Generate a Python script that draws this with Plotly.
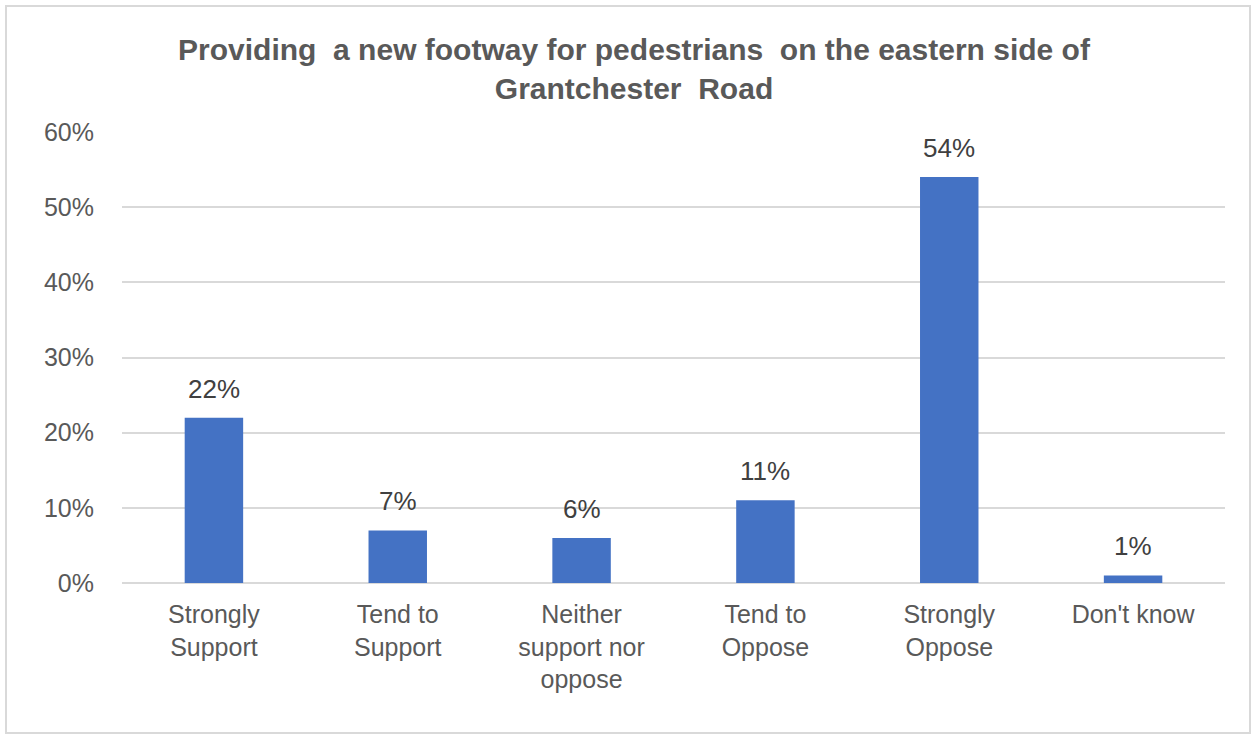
import plotly.graph_objects as go

# Survey responses
categories = [
    "Strongly<br>Support",
    "Tend to<br>Support",
    "Neither<br>support nor<br>oppose",
    "Tend to<br>Oppose",
    "Strongly<br>Oppose",
    "Don't know",
]
values = [22, 7, 6, 11, 54, 1]
y_ticks = [0, 10, 20, 30, 40, 50, 60]
y_tick_labels = [f"{v}%" for v in y_ticks]

title_text = ("Providing  a new footway for pedestrians  on the eastern side of"
              "<br>Grantchester  Road")

FONT = "Liberation Sans, Arial, sans-serif"
BAR = "#4472C4"
GRID = "#D9D9D9"
TEXT = "#595959"

fig = go.Figure(
    go.Bar(
        x=categories,
        y=values,
        marker=dict(color=BAR, line=dict(width=0)),
        hoverinfo="skip",
    )
)

# Value labels above each bar
for c, v in zip(categories, values):
    fig.add_annotation(
        x=c, y=v, text=f"{v}%", showarrow=False,
        yanchor="bottom", yshift=12,
        font=dict(family=FONT, size=26, color="#404040"),
    )

fig.update_layout(
    width=1253, height=735,
    margin=dict(l=122, r=28, t=132, b=152),
    paper_bgcolor="white", plot_bgcolor="white",
    bargap=0.682,
    showlegend=False,
    title=dict(
        text=title_text, x=0.506, xanchor="center", y=0.918, yanchor="top",
        font=dict(family=FONT, size=30, color=TEXT, weight="bold"),
    ),
    font=dict(family=FONT, color=TEXT),
    shapes=[dict(
        type="rect", xref="paper", yref="paper",
        x0=-116 / 1103, x1=1128 / 1103, y0=-150 / 451, y1=1 + 126 / 451,
        line=dict(color=GRID, width=2), layer="below",
    )],
)

fig.update_xaxes(
    showgrid=False, showline=False, zeroline=False,
    ticks="outside", ticklen=9, tickcolor="rgba(0,0,0,0)",
    tickfont=dict(family=FONT, size=25, color=TEXT),
)
fig.update_yaxes(
    range=[0, 60], tickvals=y_ticks, ticktext=y_tick_labels,
    showgrid=True, gridcolor=GRID, gridwidth=2,
    zeroline=True, zerolinecolor=GRID, zerolinewidth=2,
    showline=False,
    ticks="outside", ticklen=22, tickcolor="rgba(0,0,0,0)",
    tickfont=dict(family=FONT, size=25, color=TEXT),
)

fig.write_html("out.html")
